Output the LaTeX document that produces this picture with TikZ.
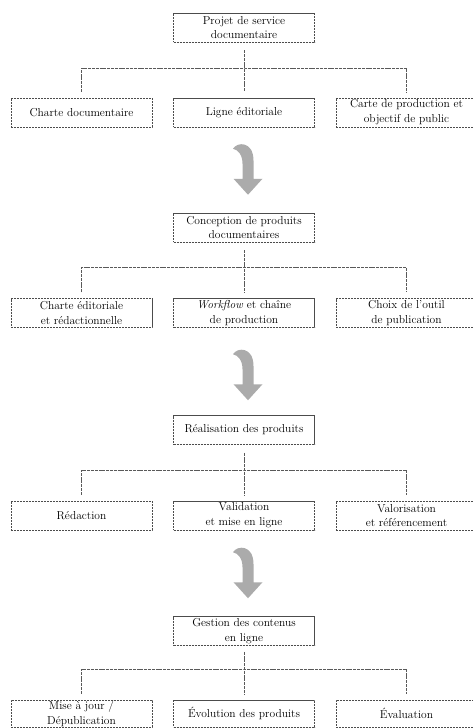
\documentclass[tikz,border=0pt]{standalone}
\usetikzlibrary{calc}
\begin{document}
\begin{tikzpicture}[x=1pt,y=-1pt,
  box/.style={draw=black!70, dash pattern=on 2.2pt off 0.8pt, line width=0.5pt,
    minimum width=141pt, minimum height=29pt, inner sep=0pt, align=center,
    font=\fontsize{11.5}{14.8}\selectfont, text=black},
  link/.style={draw=black!65, dash pattern=on 3pt off 0.8pt, line width=0.5pt},
  bigarrow/.style={fill=black!33, draw=none},
  curvedarrow/.pic={\fill[bigarrow] (-15,-46) .. controls (-11,-53) and (5.5,-54) .. (5.5,-34)
     -- (5.5,-16) -- (14.5,-16) -- (0,0) -- (-14.5,-16) -- (-5.5,-16) -- (-5.5,-31)
     .. controls (-5.5,-40) and (-10,-45) .. cycle;}]
\useasboundingbox (0,0) rectangle (473,728);

% Section 1
\node[box] (p1) at (244,27.5) {Projet de service\\documentaire};
\node[box] (c11) at (81.5,112.5) {Charte documentaire};
\node[box] (c12) at (244,112.5) {Ligne éditoriale};
\node[box] (c13) at (406.5,112.5) {Carte de production et\\objectif de public};
\coordinate (h1) at (244,68);
\draw[link] ($(p1.south)+(0,8)$) -- ($(c12.north)+(0,-6)$);
\draw[link] ($(c11.north)+(0,-6)$) |- (h1) -| ($(c13.north)+(0,-6)$);

% Section 2
\node[box] (p2) at (244,227.5) {Conception de produits\\documentaires};
\node[box] (c21) at (81.5,313) {Charte éditoriale\\et rédactionnelle};
\node[box] (c22) at (244,313) {\textit{Workflow} et chaîne\\de production};
\node[box] (c23) at (406.5,313) {Choix de l'outil\\de publication};
\coordinate (h2) at (244,267.7);
\draw[link] ($(p2.south)+(0,8)$) -- ($(c22.north)+(0,-6)$);
\draw[link] ($(c21.north)+(0,-6)$) |- (h2) -| ($(c23.north)+(0,-6)$);

% Section 3
\node[box] (p3) at (244,430) {Réalisation des produits};
\node[box] (c31) at (81.5,515.5) {Rédaction};
\node[box] (c32) at (244,515.5) {Validation\\et mise en ligne};
\node[box] (c33) at (406.5,515.5) {Valorisation\\et référencement};
\coordinate (h3) at (244,470);
\draw[link] ($(p3.south)+(0,8)$) -- ($(c32.north)+(0,-6)$);
\draw[link] ($(c31.north)+(0,-6)$) |- (h3) -| ($(c33.north)+(0,-6)$);

% Section 4
\node[box] (p4) at (244,631) {Gestion des contenus\\en ligne};
\node[box, minimum height=27pt] (c41) at (81.5,713.5) {Mise à jour /\\Dépublication};
\node[box, minimum height=27pt] (c42) at (244,713.5) {Évolution des produits};
\node[box, minimum height=27pt] (c43) at (406.5,713.5) {Évaluation};
\coordinate (h4) at (244,669);
\draw[link] ($(p4.south)+(0,6)$) -- ($(c42.north)+(0,-6)$);
\draw[link] ($(c41.north)+(0,-6)$) |- (h4) -| ($(c43.north)+(0,-6)$);

% Arrows
\pic at ($(p2.north)+(4,-18)$) {curvedarrow};
\pic at ($(p3.north)+(4,-15)$) {curvedarrow};
\pic at ($(p4.north)+(4,-18)$) {curvedarrow};
\end{tikzpicture}
\end{document}
